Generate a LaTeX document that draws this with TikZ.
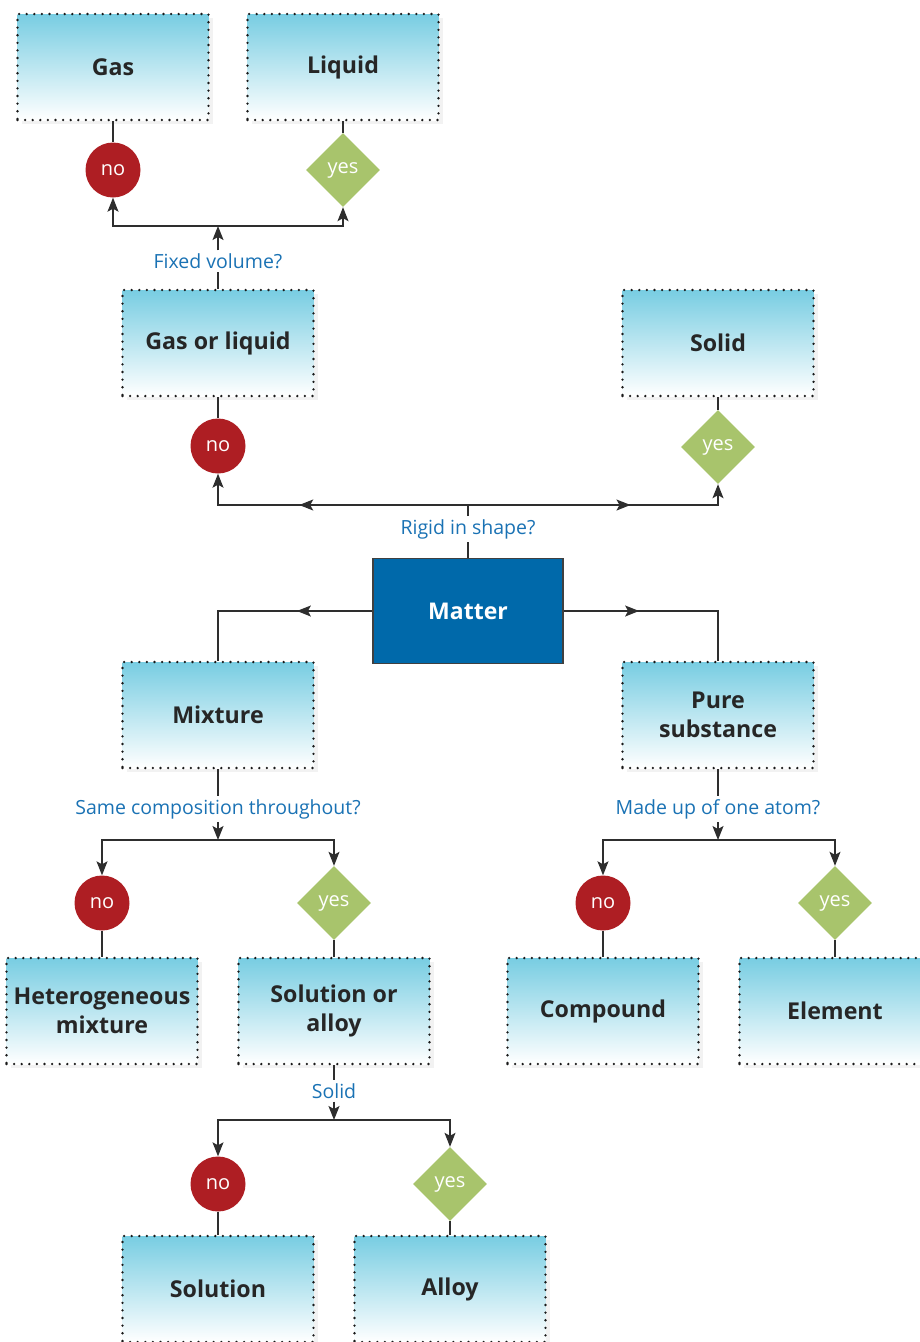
\documentclass[tikz,border=0pt]{standalone}
\usepackage{fontspec}
\setmainfont{Open Sans}
\usepackage{tikz}
\usetikzlibrary{shapes.geometric,arrows.meta,shadows,decorations.markings}
\definecolor{boxcyan}{HTML}{78CDE2}
\definecolor{nored}{HTML}{AE1E23}
\definecolor{yesgreen}{HTML}{A8C46C}
\definecolor{askblue}{HTML}{1A72B4}
\definecolor{matterblue}{HTML}{0069AA}
\definecolor{linegray}{HTML}{2E2E2E}
\tikzset{
  statebox/.style = {shape=rectangle, minimum width=191pt, minimum height=106pt,
                     align=center, font=\bfseries\fontsize{23.2}{29}\selectfont,
                     text=black!85, top color=boxcyan, bottom color=white,
                     draw=black!90, line width=2.6pt, line cap=round,
                     dash pattern=on 0pt off 7.6pt,
                     drop shadow={shadow xshift=4pt, shadow yshift=-4pt,
                                  opacity=0.05, fill=black}},
  root/.style     = {shape=rectangle, minimum width=190pt, minimum height=105pt,
                     fill=matterblue, draw=black!75, line width=1.2pt,
                     text=white, font=\bfseries\fontsize{23}{29}\selectfont},
  nobox/.style    = {circle, fill=nored, minimum size=55pt, inner sep=0pt,
                     text=white, font=\fontsize{20}{22}\selectfont},
  yesbox/.style   = {diamond, fill=yesgreen, minimum width=74pt, minimum height=74pt,
                     inner sep=0pt, text=white, font=\fontsize{20}{22}\selectfont},
  ask/.style      = {text=askblue, inner sep=3pt, font=\fontsize{19.5}{22}\selectfont},
  link/.style     = {draw=linegray, line width=1.3pt},
  arrowlink/.style = {link, -{Stealth[length=14pt,width=11pt,inset=3pt]}},
  midtip/.style   = {postaction={decorate}, decoration={markings,
                     mark=at position #1 with {\arrow[linegray]{Stealth[length=14pt,width=11pt,inset=3pt]}}}}
}
\begin{document}
\begin{tikzpicture}[x=1pt, y=-1pt]
  \useasboundingbox (0,0) rectangle (920,1342);

  % top: gas / liquid
  \node[statebox] (gas)    at (113,67)  {Gas};
  \node[statebox] (liquid) at (343,67)  {Liquid};
  \node[nobox]    (noG)    at (113,170) {no};
  \node[yesbox]   (yesL)   at (343,170) {yes};
  \node[ask]      (fixq)   at (218,261) {Fixed volume?};
  \coordinate (fix) at (218,226);

  % gas or liquid / solid
  \node[statebox] (gol)    at (218,343) {Gas or liquid};
  \node[statebox] (solid)  at (718,343) {Solid};
  \node[nobox]    (noGL)   at (218,446) {no};
  \node[yesbox]   (yesS)   at (718,447) {yes};
  \node[ask]      (rigq)   at (468,529) {Rigid in shape?};
  \coordinate (rig) at (468,505);

  % matter
  \node[root]     (matter) at (468,611) {Matter};
  \node[statebox] (mix)    at (218,715) {Mixture};
  \node[statebox] (pure)   at (718,715) {Pure\\substance};

  % mixture branch
  \node[ask]      (sameq)  at (218,809) {Same composition throughout?};
  \coordinate (same) at (218,840);
  \node[nobox]    (noH)    at (102,903) {no};
  \node[yesbox]   (yesSA)  at (334,903) {yes};
  \node[statebox] (hetero) at (102,1011) {Heterogeneous\\mixture};
  \node[statebox] (solall) at (334,1011) {Solution or\\alloy};

  % pure substance branch
  \node[ask]      (atomq)  at (718,809) {Made up of one atom?};
  \coordinate (atom) at (718,840);
  \node[nobox]    (noC)    at (603,903) {no};
  \node[yesbox]   (yesE)   at (835,903) {yes};
  \node[statebox] (comp)   at (603,1011) {Compound};
  \node[statebox] (elem)   at (835,1011) {Element};

  % solution or alloy branch
  \node[ask]      (solidq) at (334,1091) {Solid};
  \coordinate (sol) at (334,1120);
  \node[nobox]    (noSo)   at (218,1184) {no};
  \node[yesbox]   (yesA)   at (450,1184) {yes};
  \node[statebox] (solu)   at (218,1289) {Solution};
  \node[statebox] (alloy)  at (450,1289) {Alloy};

  % connectors
  \draw[link] (gas.south) -- (noG.north);
  \draw[link] (liquid.south) -- (yesL.north);
  \draw[link] (gol.north) -- (fixq.south);
  \draw[arrowlink] (fixq.north) -- (fix);
  \draw[arrowlink] (fix) -| (noG.south);
  \draw[arrowlink] (fix) -| (yesL.south);

  \draw[link] (gol.south) -- (noGL.north);
  \draw[link] (solid.south) -- (yesS.north);
  \draw[link] (matter.north) -- (rigq.south);
  \draw[link] (rigq.north) -- (rig);
  \draw[arrowlink, midtip=0.6] (rig) -| (noGL.south);
  \draw[arrowlink, midtip=0.6] (rig) -| (yesS.south);

  \draw[link, midtip=0.37] (matter.west) -| (mix.north);
  \draw[link, midtip=0.37] (matter.east) -| (pure.north);

  \draw[link] (mix.south) -- (sameq.north);
  \draw[arrowlink] (sameq.south) -- (same);
  \draw[arrowlink] (same) -| (noH.north);
  \draw[arrowlink] (same) -| (yesSA.north);
  \draw[link] (noH.south) -- (hetero.north);
  \draw[link] (yesSA.south) -- (solall.north);

  \draw[link] (pure.south) -- (atomq.north);
  \draw[arrowlink] (atomq.south) -- (atom);
  \draw[arrowlink] (atom) -| (noC.north);
  \draw[arrowlink] (atom) -| (yesE.north);
  \draw[link] (noC.south) -- (comp.north);
  \draw[link] (yesE.south) -- (elem.north);

  \draw[link] (solall.south) -- (solidq.north);
  \draw[arrowlink] (solidq.south) -- (sol);
  \draw[arrowlink] (sol) -| (noSo.north);
  \draw[arrowlink] (sol) -| (yesA.north);
  \draw[link] (noSo.south) -- (solu.north);
  \draw[link] (yesA.south) -- (alloy.north);
\end{tikzpicture}
\end{document}
